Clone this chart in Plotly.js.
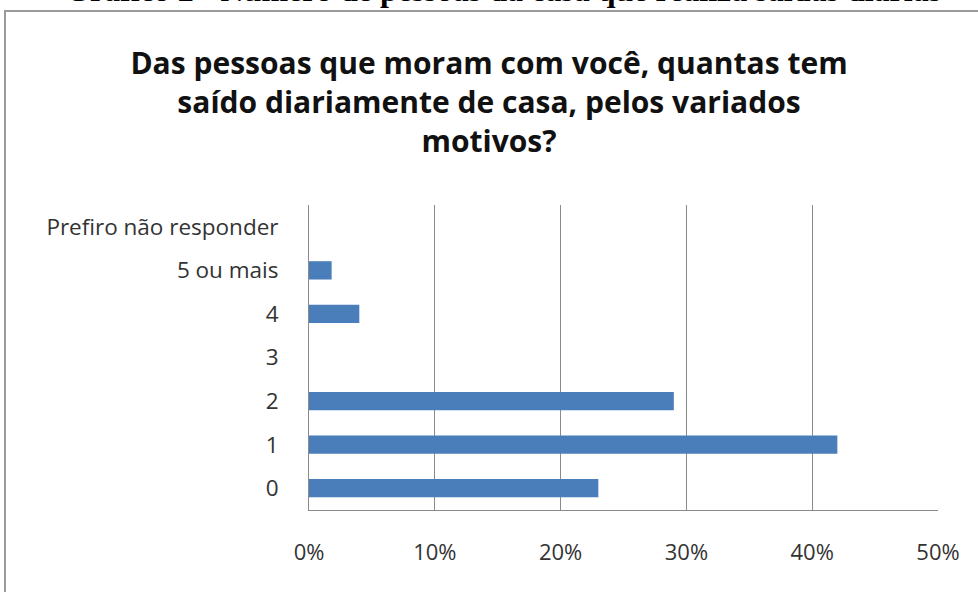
<!DOCTYPE html>
<html><head><meta charset="utf-8">
<script src="https://cdn.plot.ly/plotly-3.0.1.min.js"></script>
<style>html,body{margin:0;padding:0;background:#fff}</style>
</head><body><div id="chart" style="width:978px;height:592px"></div>
<script>
var categories = ["0", "1", "2", "3", "4", "5 ou mais", "Prefiro não responder"];
var values = [0.23, 0.42, 0.29, 0, 0.04, 0.018, 0];
var xTicks = [0, 0.1, 0.2, 0.3, 0.4, 0.5];
var xTickLabels = ["0%", "10%", "20%", "30%", "40%", "50%"];
var chartTitle = "Das pessoas que moram com você, quantas tem<br>saído diariamente de casa, pelos variados<br>motivos?";
var caption = "Gráfico 2 - Número de pessoas da casa que realiza saídas diárias";

var W = 978, H = 592, ml = 309, mr = 40, mt = 205, mb = 82;
var pw = W - ml - mr, ph = H - mt - mb;
function px(x){ return (x - ml) / pw; }
function py(y){ return (H - mb - y) / ph; }

var trace = {
  type: 'bar', orientation: 'h', y: categories, x: values,
  marker: {color: '#4A7EBB'}, width: 0.42, hoverinfo: 'none'
};
var layout = {
  width: W, height: H,
  margin: {l: ml, r: mr, t: mt, b: mb},
  paper_bgcolor: '#fff', plot_bgcolor: '#fff',
  showlegend: false,
  title: {text: chartTitle, font: {family: 'Open Sans', size: 30, color: '#111', weight: 'bold'},
          x: 0.5, xref: 'container', xanchor: 'center', y: 1 - 74/H, yref: 'container', yanchor: 'middle'},
  xaxis: {range: [0, 0.5], tickvals: xTicks, ticktext: xTickLabels, showgrid: true,
          gridcolor: '#8a8a8a', gridwidth: 1, zeroline: false, showline: true, linecolor: '#8a8a8a',
          ticks: '', ticklabelstandoff: 23, tickfont: {family: 'Open Sans', size: 22, color: '#333'}, fixedrange: true},
  yaxis: {type: 'category', categoryorder: 'array', categoryarray: categories, showgrid: false, zeroline: false,
          showline: true, linecolor: '#8a8a8a', ticks: '', ticklabelstandoff: 25,
          tickfont: {family: 'Open Sans', size: 22.5, color: '#333'}, fixedrange: true},
  shapes: [{type: 'rect', xref: 'paper', yref: 'paper', x0: px(5), x1: px(990), y0: py(11), y1: py(620),
            line: {color: '#9a9a9a', width: 2}, fillcolor: 'rgba(0,0,0,0)', layer: 'below'}],
  annotations: [{text: caption, xref: 'paper', yref: 'paper', x: px(503), y: py(-10), xanchor: 'center', yanchor: 'middle',
                 showarrow: false, font: {family: 'Liberation Serif', size: 32, color: '#000', weight: 'bold'}}]
};
Plotly.newPlot('chart', [trace], layout, {displayModeBar: false, staticPlot: true});
</script></body></html>
